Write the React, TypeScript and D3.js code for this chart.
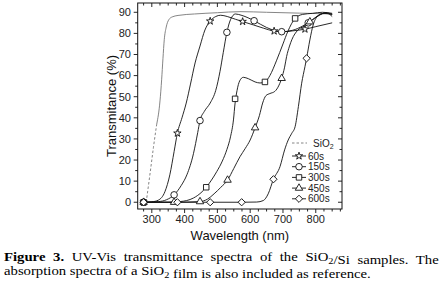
import React, { useLayoutEffect, useRef, useState } from "react";
import * as d3 from "d3";

// ---------- data ----------
const xTickLabels = [300, 400, 500, 600, 700, 800];
const yTickLabels = [0, 10, 20, 30, 40, 50, 60, 70, 80, 90];
const seriesNames = ["SiO2", "60s", "150s", "300s", "450s", "600s"];

const wlSiO2 = [283, 295, 305, 315, 325, 330, 334, 338, 344, 352, 362, 380, 430, 500, 569, 650, 750, 850];
const tSiO2 = [0, 14, 26, 37, 48, 58, 68, 77, 83, 86.5, 87.8, 88.5, 89.2, 89.8, 90.3, 90, 89.6, 89.2];

const wl60 = [275, 300, 320, 340, 355, 368, 378, 392, 405, 418, 432, 447, 462, 478, 495, 510, 530, 555, 577, 610, 640, 673, 700, 730, 767, 800, 850];
const t60 = [0, 0.2, 1, 5, 13, 24, 32.7, 40, 47, 56, 66, 74, 81.6, 85.8, 88, 88.6, 88, 86.7, 85.6, 84, 82.5, 81.1, 80.8, 81.2, 82, 83.2, 85];
const mk60 = [275, 378, 478, 577, 673, 767];
const mv60 = [0, 32.7, 85.8, 85.6, 81.1, 82];

const wl150 = [275, 320, 345, 368, 390, 407, 427, 440, 447, 460, 478, 495, 508, 518, 529, 540, 555, 575, 612, 650, 696, 730, 760, 790, 818, 835, 850];
const t150 = [0, 0.3, 1.2, 3.5, 8, 13, 23, 33, 38.7, 43, 47, 53, 62, 71, 80.5, 86.5, 89.2, 88.5, 86, 82.8, 80.8, 81.5, 83.5, 86.5, 89.3, 89.5, 88];
const mk150 = [275, 368, 447, 529, 612, 696, 777];
const mv150 = [0, 3.5, 38.7, 80.5, 86, 80.8, 85];

const wl300 = [275, 350, 386, 427, 450, 466, 482, 498, 515, 529, 540, 549, 554, 560, 568, 579, 595, 615, 630, 645, 660, 680, 700, 715, 737, 760, 790, 820, 850];
const t300 = [0, 0, 0.3, 2, 4.5, 7.1, 10.5, 14.5, 19.5, 25, 31, 39, 47, 53, 57.5, 59.2, 58.5, 57, 56.5, 57, 60, 67, 75, 81, 87.1, 89, 89.5, 90, 89.5];
const mk300 = [275, 466, 554, 645, 737];
const mv300 = [0, 7.1, 49, 57, 87.1];

const wl450 = [275, 368, 447, 470, 490, 510, 531, 550, 569, 585, 600, 615, 628, 638, 648, 660, 675, 688, 696, 705, 711, 720, 727, 745, 765, 782, 810, 830, 850];
const t450 = [0, 0, 0.3, 1.5, 4, 7, 10.5, 16, 21.6, 25.5, 29.5, 35.3, 41, 47, 50.5, 51.5, 52.5, 55.5, 58.7, 64, 69, 74, 77, 81.5, 83.5, 85.5, 88.5, 89.8, 89];
const mk450 = [275, 368, 447, 531, 615, 696, 782];
const mv450 = [0, 0, 0.3, 10.5, 35.3, 58.7, 85.5];

const wl600 = [275, 378, 478, 574, 620, 640, 655, 671, 691, 705, 716, 727, 737, 747, 757, 767, 772, 782, 792, 805, 825, 850];
const t600 = [0, 0, 0, 0, 0.1, 0.8, 4, 10.9, 16.9, 24.8, 29.5, 32.7, 35.8, 45.3, 56.4, 64.2, 68.2, 76.9, 84, 88, 89.5, 89];
const mk600 = [275, 378, 478, 574, 671, 772];
const mv600 = [0, 0, 0, 0, 10.9, 68.2];

const dashBelow = 45; // SiO2 trace drawn dashed below this transmittance

// ---------- layout ----------
const W = 443;
const H = 293;
const L = 137.7, R = 342, T = 3, B = 209;
const FONT = "'Liberation Sans', Arial, sans-serif";
const SERIF = "'Liberation Serif', 'Times New Roman', serif";

const x = d3.scaleLinear().domain([257, 880]).range([L, R]);
const y = d3.scaleLinear().domain([-3.2, 94.4]).range([B, T]);

const line = d3
  .line<[number, number]>()
  .x((d) => x(d[0]))
  .y((d) => y(d[1]))
  .curve(d3.curveMonotoneX);

const zip = (a: number[], b: number[]) => a.map((v, i) => [v, b[i]] as [number, number]);

type Kind = "star" | "circle" | "square" | "triangle" | "diamond";
const symPath: Record<Kind, string> = {
  star: d3.symbol(d3.symbolStar, 17)()!,
  circle: d3.symbol(d3.symbolCircle, 34)()!,
  square: d3.symbol(d3.symbolSquare, 30)()!,
  triangle: d3.symbol(d3.symbolTriangle, 24)()!,
  diamond: d3.symbol(d3.symbolSquare, 26)()!,
};

function Marker({ kind, cx, cy }: { kind: Kind; cx: number; cy: number }) {
  const rot = kind === "diamond" ? " rotate(45)" : "";
  return (
    <path
      d={symPath[kind]}
      transform={`translate(${cx},${cy})${rot}`}
      fill="white"
      stroke="#111"
      strokeWidth={0.9}
    />
  );
}

const series: { wl: number[]; t: number[]; mk: number[]; mv: number[]; kind: Kind }[] = [
  { wl: wl60, t: t60, mk: mk60, mv: mv60, kind: "star" },
  { wl: wl150, t: t150, mk: mk150, mv: mv150, kind: "circle" },
  { wl: wl300, t: t300, mk: mk300, mv: mv300, kind: "square" },
  { wl: wl450, t: t450, mk: mk450, mv: mv450, kind: "triangle" },
  { wl: wl600, t: t600, mk: mk600, mv: mv600, kind: "diamond" },
];

const xMinor = d3.range(275, 880, 25);
const yMinor = d3.range(0, 94, 5);

function Sio2Text({ size }: { size: number }) {
  return (
    <>
      SiO
      <tspan fontSize={size * 0.7} dy={size * 0.22}>
        2
      </tspan>
      <tspan dy={-size * 0.22}>{""}</tspan>
    </>
  );
}

export default function App() {
  const line1Ref = useRef<SVGTextElement>(null);
  const line2Ref = useRef<SVGTextElement>(null);
  const [cap, setCap] = useState({ k: 1.13, ws: 0 });

  useLayoutEffect(() => {
    const l1 = line1Ref.current;
    const l2 = line2Ref.current;
    if (!l1 || !l2) return;
    const n1 = l1.getComputedTextLength();
    const n2 = l2.getComputedTextLength();
    const k = 367 / n2; // line 2 spans x 4 → 371 in the reference
    const ws = (435 / k - n1) / 9; // line 1 is justified over x 4 → 439
    setCap({ k, ws });
  }, []);

  const sio2 = zip(wlSiO2, tSiO2);
  const splitIdx = sio2.findIndex((d) => d[1] > dashBelow);
  const sioDashed = sio2.slice(0, splitIdx);
  const sioSolid = sio2.slice(splitIdx - 1);

  const legendRows = [156, 166.7, 177.4, 188.1, 198.8];
  const kinds: Kind[] = ["star", "circle", "square", "triangle", "diamond"];

  return (
    <svg
      width={W}
      height={H}
      style={{ position: "absolute", left: 0, top: 0, background: "white" }}
      fontFamily={FONT}
    >
      <rect x={0} y={0} width={W} height={H} fill="white" />

      {/* curves */}
      <path d={line(sioDashed)!} fill="none" stroke="#777" strokeWidth={0.9} strokeDasharray="2.5,2" />
      <path d={line(sioSolid)!} fill="none" stroke="#777" strokeWidth={0.9} />
      {series.map((s, i) => (
        <path key={i} d={line(zip(s.wl, s.t))!} fill="none" stroke="#111" strokeWidth={0.9} />
      ))}
      {series.map((s, i) =>
        s.mk.map((m, j) => <Marker key={`${i}-${j}`} kind={s.kind} cx={x(m)} cy={y(s.mv[j])} />)
      )}

      {/* frame */}
      <rect x={L} y={T} width={R - L} height={B - T} fill="none" stroke="#111" strokeWidth={1} />

      {/* x ticks */}
      {xMinor.map((v) => {
        const major = v % 100 === 0;
        const len = major ? 4 : 2.5;
        return (
          <g key={`xm${v}`} stroke="#111" strokeWidth={0.9}>
            <line x1={x(v)} x2={x(v)} y1={B} y2={B + len} />
            <line x1={x(v)} x2={x(v)} y1={T} y2={T + len} />
          </g>
        );
      })}
      {xTickLabels.map((v) => (
        <text key={`xl${v}`} x={x(v)} y={223} fontSize={11} textAnchor="middle" fill="#222">
          {v}
        </text>
      ))}

      {/* y ticks */}
      {yMinor.map((v) => {
        const major = v % 10 === 0;
        const len = major ? 4 : 2.5;
        return (
          <g key={`ym${v}`} stroke="#111" strokeWidth={0.9}>
            <line x1={L - len} x2={L} y1={y(v)} y2={y(v)} />
            <line x1={R - len} x2={R} y1={y(v)} y2={y(v)} />
          </g>
        );
      })}
      {yTickLabels.map((v) => (
        <text key={`yl${v}`} x={131} y={y(v) + 3.8} fontSize={11} textAnchor="end" fill="#222">
          {v}
        </text>
      ))}

      {/* axis titles */}
      <text x={(L + R) / 2} y={240} fontSize={13} textAnchor="middle" fill="#111">
        Wavelength (nm)
      </text>
      <text
        transform={`translate(116,${(T + B) / 2}) rotate(-90)`}
        fontSize={13}
        textAnchor="middle"
        fill="#111"
      >
        Transmitance (%)
      </text>

      {/* legend */}
      <line x1={292} x2={307} y1={143} y2={143} stroke="#777" strokeWidth={0.9} strokeDasharray="2.5,2" />
      <text x={313} y={146.5} fontSize={10} fill="#222">
        <Sio2Text size={10} />
      </text>
      {seriesNames.slice(1).map((name, i) => (
        <g key={name}>
          <line x1={292} x2={306} y1={legendRows[i]} y2={legendRows[i]} stroke="#111" strokeWidth={0.9} />
          <Marker kind={kinds[i]} cx={299} cy={legendRows[i]} />
          <text x={308} y={legendRows[i] + 3.6} fontSize={10} fill="#222">
            {name}
          </text>
        </g>
      ))}

      {/* caption */}
      <g transform={`translate(4,0) scale(${cap.k},1)`} fontFamily={SERIF} fontSize={13} fill="#000">
        <text ref={line1Ref} x={0} y={261} wordSpacing={cap.ws}>
          <tspan fontWeight="bold">Figure 3.</tspan> UV-Vis transmittance spectra of the <Sio2Text size={13} />
          /Si samples. The
        </text>
        <text ref={line2Ref} x={0} y={275}>
          absorption spectra of a <Sio2Text size={13} /> film is also included as reference.
        </text>
      </g>
    </svg>
  );
}
